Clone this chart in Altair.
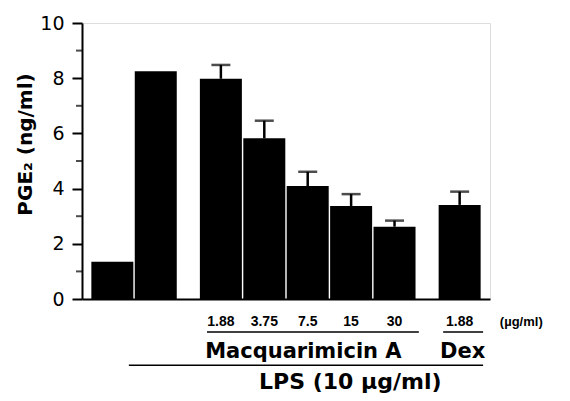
import altair as alt
import pandas as pd

positions = [0, 1, 2.5, 3.5, 4.5, 5.5, 6.5, 8]
values = [1.35, 8.25, 7.98, 5.82, 4.09, 3.37, 2.62, 3.41]
errors = [0, 0, 0.5, 0.64, 0.52, 0.43, 0.22, 0.48]

major_ticks = [0, 2, 4, 6, 8, 10]
minor_ticks = [1, 3, 5, 7, 9]

dose_pos = [2.5, 3.5, 4.5, 5.5, 6.5, 8]
dose_labels = ["1.88", "3.75", "7.5", "15", "30", "1.88"]
unit_label = ["(µg/ml)"]
unit_pos = [9.42]

group_labels = ["Macquarimicin A", "Dex", "LPS (10 µg/ml)"]
group_pos = [4.4, 8.07, 5.48]
group_y = [-1.92, -1.92, -3.0]
group_size = [21, 21, 22]

line_x = [2.18, 7.62, 0.38]
line_x2 = [7.06, 8.54, 8.54]
line_y = [-1.2, -1.2, -2.4]

FONT = "Liberation Sans"
FONT2 = "DejaVu Sans"

bars_df = pd.DataFrame({"x": positions, "v": values, "e": errors})
bars_df["top"] = bars_df["v"] + bars_df["e"]
err_df = bars_df[bars_df["e"] > 0]
minor_df = pd.DataFrame({"y": minor_ticks})
dose_df = pd.DataFrame({"x": dose_pos, "t": dose_labels, "y": [-0.83] * len(dose_pos)})
unit_df = pd.DataFrame({"x": unit_pos, "t": unit_label, "y": [-0.83]})
group_df = pd.DataFrame({"x": group_pos, "t": group_labels, "y": group_y, "s": group_size})
line_df = pd.DataFrame({"x": line_x, "x2": line_x2, "y": line_y})

xs = alt.Scale(domain=[-0.584, 8.584], nice=False, zero=False)
ys = alt.Scale(domain=[0, 10], nice=False)

x_axis = alt.Axis(labels=False, ticks=False, grid=False, title=None,
                  domainColor="black", domainWidth=2)
y_axis = alt.Axis(values=major_ticks, grid=False, tickSize=10,
                  tickColor="black", tickWidth=2, domainColor="black", domainWidth=2,
                  labelFont=FONT2, labelFontSize=19, labelColor="black", labelPadding=8,
                  title="PGE₂ (ng/ml)", titleFont=FONT2, titleFontSize=20, titleFontWeight="bold",
                  titleColor="black", titleX=-57, titleY=121, titleAngle=270,
                  titleAlign="center", titleBaseline="middle")

base = alt.Chart(bars_df)
bars = base.mark_bar(color="black", size=42).encode(
    x=alt.X("x:Q", scale=xs, axis=x_axis),
    y=alt.Y("v:Q", scale=ys, axis=y_axis),
)
minor = alt.Chart(minor_df).mark_tick(color="black", size=6, thickness=2, orient="horizontal").encode(
    x=alt.value(-3), y="y:Q")
err_rule = alt.Chart(err_df).mark_rule(color="black", strokeWidth=2.5).encode(
    x="x:Q", y="v:Q", y2="top:Q")
err_cap = alt.Chart(err_df).mark_tick(color="black", size=19, thickness=2.5, orient="horizontal").encode(
    x="x:Q", y="top:Q")

dose_text = alt.Chart(dose_df).mark_text(font=FONT, fontSize=14, fontWeight="bold", color="black",
                                          baseline="middle").encode(
    x="x:Q", y="y:Q", text="t:N")
unit_text = alt.Chart(unit_df).mark_text(font=FONT, fontSize=13, fontWeight="bold", color="black",
                                          baseline="middle").encode(
    x="x:Q", y="y:Q", text="t:N")
group_text = alt.Chart(group_df).mark_text(font=FONT2, fontWeight="bold", color="black",
                                            baseline="middle").encode(
    x="x:Q", y="y:Q", text="t:N", size=alt.Size("s:Q", scale=None, legend=None))
lines = alt.Chart(line_df).mark_rule(color="black", strokeWidth=1.5).encode(
    x="x:Q", x2="x2:Q", y="y:Q")

chart = alt.layer(bars, minor, err_rule, err_cap, dose_text, unit_text, group_text, lines).properties(
    width=408, height=276,
    autosize=alt.AutoSizeParams(type="none"),
    padding={"left": 74, "top": 15, "right": 72, "bottom": 94},
).configure_view(stroke=None).configure(background="white")

chart.save("out.html", embed_options={"renderer": "svg", "actions": False})
